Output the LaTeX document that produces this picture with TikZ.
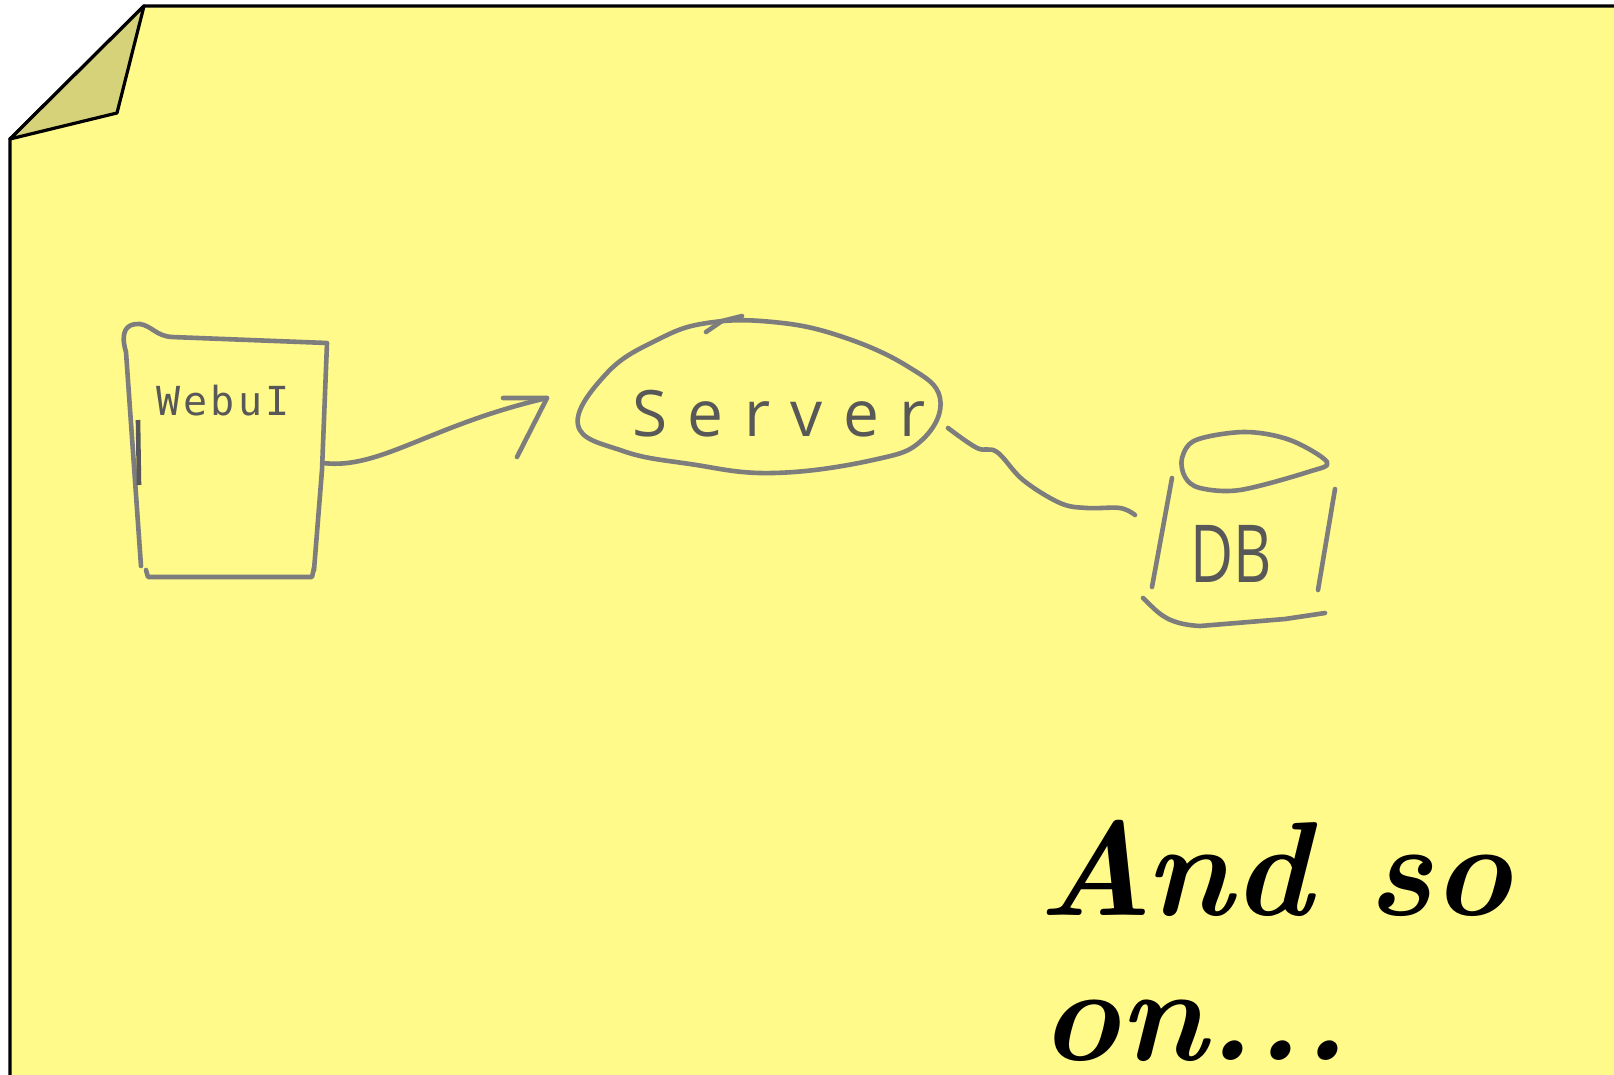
\documentclass[tikz,border=0pt]{standalone}
\usepackage{fontspec}
\newfontfamily\sketchfont{Open Sans}
\newfontfamily\sketchmono{DejaVu Sans Mono}
\definecolor{notefill}{RGB}{255,250,138}
\definecolor{foldfill}{RGB}{214,210,122}
\definecolor{pencil}{RGB}{125,125,125}
\definecolor{pencilink}{RGB}{88,88,88}
\begin{document}
\begin{tikzpicture}[x=1pt,y=-1pt,
  notebody/.style={draw=black, line width=3.2pt, line join=miter},
  pen/.style={draw=pencil, line width=4.6pt, line cap=round, line join=round},
  scribble/.style={text=pencilink, inner sep=0pt, anchor=base west},
  script/.style={text=black, inner sep=0pt, anchor=base west,
    font=\fontsize{134}{150}\selectfont\bfseries\itshape}]
\useasboundingbox (0,0) rectangle (1614,1074);
\fill[white] (0,0) rectangle (1614,1074);

% sticky note with its dog-eared corner
\path[notebody, fill=notefill] (144,6) -- (1650,6) -- (1650,1110) -- (10,1110) -- (10,139) -- cycle;
\path[notebody, fill=foldfill, line join=round] (144,6) -- (117,113) -- (10,139) -- cycle;

% --- hand-drawn sketch ---
% web UI page
\draw[pen] (141,566) -- (126,352) .. controls (120,332) and (126,323) .. (140,324)
  .. controls (152,326) and (156,336) .. (172,337) -- (327,343) -- (322,470) -- (314,570);
\draw[pen] (146,570) -- (148,577) -- (312,577) -- (314,568);
\draw[draw=pencilink, line width=4.6pt] (138,420) -- (139,485);
\node[scribble, font=\sketchmono\fontsize{40}{40}\selectfont\addfontfeatures{LetterSpace=8}]
  (webui) at (156,415) {WebuI};
\coordinate (webui-east) at (323,463);

% server bubble
\draw[pen] plot[smooth cycle, tension=0.7] coordinates {
  (578,425) (607,373) (657,340) (707,323) (773,322) (840,336) (907,366)
  (940,398) (922,440) (873,460) (773,473) (690,464) (623,451)};
\draw[pen] (706,332) -- (722,321) -- (742,316);
\node[scribble, font=\sketchfont\fontsize{64}{64}\selectfont\addfontfeatures{LetterSpace=32}]
  (server) at (632,436) {Server};
\coordinate (server-west) at (547,398);
\coordinate (server-east) at (948,428);

% database drum
\draw[pen] plot[smooth cycle, tension=0.55] coordinates {
  (1182,458) (1196,440) (1245,432) (1290,440) (1327,462) (1308,472)
  (1240,490) (1200,488) (1185,477)};
\draw[pen] (1172,478) -- (1152,587);
\draw[pen] (1335,489) -- (1318,590);
\draw[pen] (1143,598) .. controls (1158,612) and (1165,624) .. (1200,626)
  -- (1285,619) -- (1325,613);
\node[scribble, font=\sketchfont\fontsize{80}{80}\selectfont, xscale=0.74, transform shape]
  (db) at (1190,582) {DB};
\coordinate (db-west) at (1135,515);

% connectors
\draw[pen] (webui-east) .. controls (380,470) and (430,425) .. (server-west);
\draw[pen] (503,398) -- (server-west) -- (517,457);
\draw[pen] plot[smooth, tension=0.6] coordinates {
  (server-east) (977,448) (997,452) (1023,480) (1060,503) (1087,508) (1120,508) (db-west)};

% closing words
\node[script] (andso) at (1037,915) {And so};
\node[script] (onward) at (1040,1060) {on...};
\end{tikzpicture}
\end{document}
